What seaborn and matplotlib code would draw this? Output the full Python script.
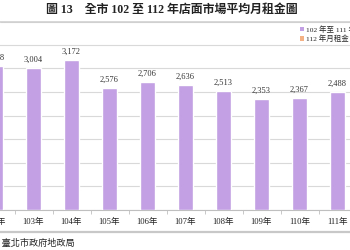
import matplotlib
matplotlib.use("Agg")
import matplotlib.pyplot as plt
import seaborn as sns
import pandas as pd
from matplotlib.patches import Patch
from matplotlib.lines import Line2D

years = ["102年", "103年", "104年", "105年", "106年", "107年", "108年", "109年", "110年", "111年"]
rents = [3048, 3004, 3172, 2576, 2706, 2636, 2513, 2353, 2367, 2488]
legend_labels = ["102 年至 111 年月租金", "112 年月租金"]
title = "圖 13　全市 102 至 112 年店面市場平均月租金圖"
source = "資料來源：臺北市政府地政局"

purple = "#C2A0E3"
orange = "#F4B183"

sns.set_theme(style="white")
plt.rcParams["font.family"] = ["Liberation Serif", "Noto Sans CJK TC"]

df = pd.DataFrame({"year": years, "rent": rents})

fig = plt.figure(figsize=(3.5, 2.5), dpi=100)
ax = fig.add_axes([-23.5 / 350, 40 / 250, 418 / 350, 189 / 250])

sns.barplot(data=df, x="year", y="rent", color=purple, width=0.4,
            saturation=1, ax=ax, zorder=3)

ax.set_xlim(-0.5, 10.5)
ax.set_ylim(0, 4000)
ax.set_yticks(range(0, 4001, 500))
ax.yaxis.grid(True, color="#D9D9D9", linewidth=0.8, zorder=0)
ax.tick_params(axis="y", left=False, labelleft=False)
for s in ["left", "right", "top"]:
    ax.spines[s].set_visible(False)
ax.spines["bottom"].set_color("#BFBFBF")
ax.spines["bottom"].set_linewidth(0.8)
ax.set_xlabel("")
ax.set_ylabel("")

ax.set_xticks([i + 0.5 for i in range(-1, 11)], minor=True)
ax.tick_params(axis="x", which="major", length=0, pad=6, labelsize=6.2, colors="#222222")
ax.tick_params(axis="x", which="minor", length=3, width=0.6, color="#BFBFBF", bottom=True)

for i, v in enumerate(rents):
    ax.annotate(f"{v:,}", (i, v), xytext=(0, 3), textcoords="offset points",
                ha="center", va="bottom", fontsize=6.0, color="#333333")

fig.text(172 / 350, 1 - 10 / 250, title, ha="center", va="center",
         fontsize=8.6, fontweight="bold", color="#222222")

fig.add_artist(Line2D([0, 1], [1 - 22 / 250, 1 - 22 / 250], transform=fig.transFigure,
                      color="#D0D0D0", linewidth=0.8))
fig.add_artist(Line2D([0, 1], [1 - 232 / 250, 1 - 232 / 250], transform=fig.transFigure,
                      color="#C8C8C8", linewidth=1.6))

fig.text(75 / 350, 1 - 243 / 250, source, ha="right", va="center",
         fontsize=6.6, color="#222222")

handles = [Patch(facecolor=purple, edgecolor="none"), Patch(facecolor=orange, edgecolor="none")]
fig.legend(handles, legend_labels, loc="upper left", bbox_to_anchor=(300 / 350, 1 - 25 / 250),
           frameon=False, fontsize=5.4, handlelength=0.55, handleheight=0.55,
           handletextpad=0.3, labelspacing=0.2, borderpad=0, borderaxespad=0)

fig.savefig("out.png", dpi=100)
